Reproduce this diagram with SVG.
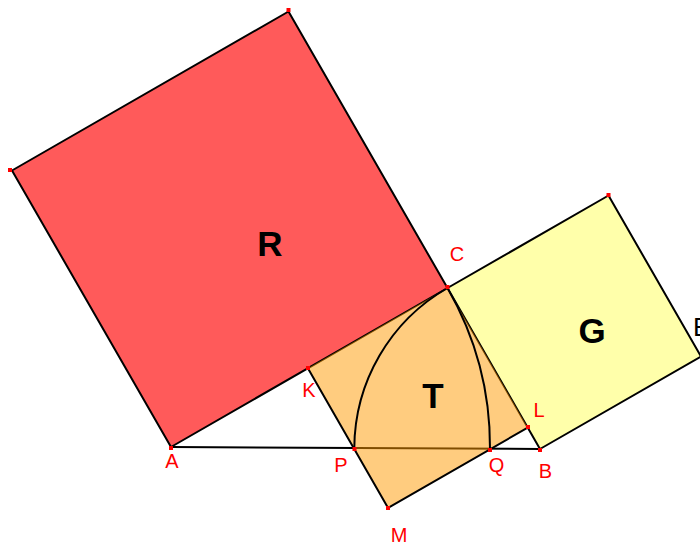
<svg xmlns="http://www.w3.org/2000/svg" width="700" height="548" viewBox="0 0 700 548">
<style>
.edge{stroke:#000;stroke-width:2;stroke-linejoin:round;fill:none}
.pt{fill:#ff0000}
.lbl{font-family:"Liberation Sans",Arial,sans-serif;font-size:20px;fill:#ff0000;text-anchor:middle}
.big{font-family:"Liberation Sans",Arial,sans-serif;font-size:35px;font-weight:bold;fill:#000;text-anchor:middle}
</style>
<rect width="700" height="548" fill="#fff"/>
<g id="square-R">
<polygon points="171,447 447.5,288 288.5,11.5 12,170.5" fill="#ff5a5a" class="edge" style="fill:#ff5a5a"/>
<text class="big" x="270" y="256">R</text>
</g>
<g id="square-G">
<polygon points="447.5,288 540,449 701,356.5 608.5,195.5" class="edge" style="fill:#ffffaa"/>
<text class="big" x="592" y="343">G</text>
</g>
<g id="connectors">
<line class="edge" x1="171" y1="447" x2="540" y2="449"/>
</g>
<g id="square-T">
<polygon points="307.9,368.3 447.5,288 527.7,427.6 388.1,507.9" fill="#ff9900" fill-opacity="0.5" stroke="none"/>
<polyline class="edge" points="307.9,368.3 388.1,507.9 527.7,427.6"/>
<text class="big" x="433" y="408">T</text>
</g>
<g id="arcs">
<path class="edge" d="M447.5,288 A185.7,185.7 0 0 0 354.3,448"/>
<path class="edge" d="M447.5,288 A318.96,318.96 0 0 1 490,448.7"/>
</g>
<g id="points">
<rect class="pt" x="169" y="446" width="4" height="4"/>
<rect class="pt" x="445.5" y="285" width="4" height="4"/>
<rect class="pt" x="286.5" y="8" width="4" height="4"/>
<rect class="pt" x="8" y="168" width="4" height="4"/>
<rect class="pt" x="538" y="448" width="4" height="4"/>
<rect class="pt" x="606.5" y="193" width="4" height="4"/>
<rect class="pt" x="306" y="366" width="4" height="4"/>
<rect class="pt" x="526" y="425" width="4" height="4"/>
<rect class="pt" x="386" y="506" width="4" height="4"/>
<rect class="pt" x="352.5" y="447" width="4" height="4"/>
<rect class="pt" x="488" y="448" width="4" height="4"/>
</g>
<g id="labels">
<text class="lbl" x="172" y="468">A</text>
<text class="lbl" x="341" y="472">P</text>
<text class="lbl" x="496.5" y="472">Q</text>
<text class="lbl" x="545.5" y="478">B</text>
<text class="lbl" x="539" y="417">L</text>
<text class="lbl" x="399" y="542">M</text>
<text class="lbl" x="309" y="397">K</text>
<text class="lbl" x="457" y="261">C</text>
<text x="693" y="336" font-family="Liberation Sans,Arial,sans-serif" font-size="26" fill="#000">E</text>
</g>
</svg>
